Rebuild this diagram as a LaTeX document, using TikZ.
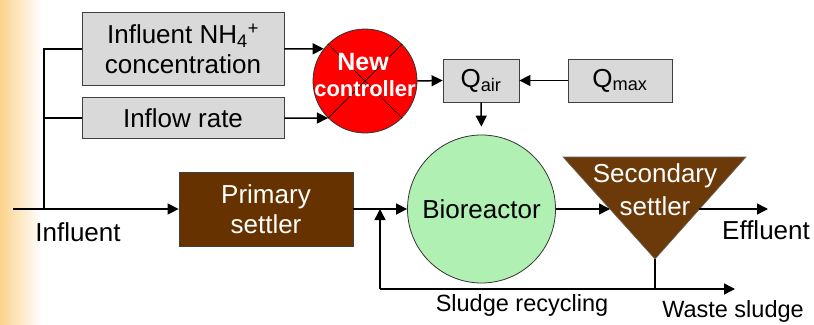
\documentclass[tikz,border=0pt]{standalone}
\usepackage{fontspec}
\setmainfont{Liberation Sans}
\usetikzlibrary{arrows.meta,calc}
\definecolor{boxgray}{HTML}{D9D9D9}
\definecolor{brownA}{HTML}{663300}
\definecolor{brownB}{HTML}{6B3A08}
\definecolor{bioGreen}{HTML}{B0F0B2}
\definecolor{bgorange}{HTML}{FBD38C}
\begin{document}
\begin{tikzpicture}[x=1pt,y=-1pt,
  txt/.style={font=\fontsize{26}{30}\selectfont, align=center, inner sep=0pt},
  small/.style={font=\fontsize{23.5}{27}\selectfont, inner sep=0pt},
  graybox/.style={draw=black!75, line width=0.8pt, fill=boxgray, txt},
  brownbox/.style={draw=black!75, line width=0.8pt, fill=brownA, txt, text=white},
  arr/.style={line width=1.5pt, -{Triangle[length=11pt,width=11pt]}},
  thick line/.style={line width=2.4pt},
]
\useasboundingbox (0,0) rectangle (814,324);
\fill[white] (0,0) rectangle (814,324);
\shade[left color=bgorange, right color=white, shading angle=90] (0,0) rectangle (42,324);
\fill[white] (42,0) rectangle (814,324);

% nodes
\node[graybox, minimum width=202pt, minimum height=73pt] (nh4) at (183,49)
  {Influent NH\textsubscript{4}\textsuperscript{+}\\concentration};
\node[graybox, minimum width=202pt, minimum height=41pt] (inflow) at (183,118) {Inflow rate};
\node[circle, draw=black!80, line width=0.8pt, fill=red, minimum size=104pt, inner sep=0pt] (ctrl) at (365,81) {};
\draw[line width=0.7pt] (ctrl.45) -- (ctrl.225) (ctrl.135) -- (ctrl.315);
\node[text=white, font=\bfseries\fontsize{25}{27}\selectfont, inner sep=0pt] (ctrlA) at (363,62) {New};
\node[text=white, font=\bfseries\fontsize{22}{27}\selectfont, inner sep=0pt] (ctrlB) at (365,89) {controller};
\node[graybox, minimum width=76pt, minimum height=43pt] (qair) at (481,80.5) {Q\textsubscript{air}};
\node[graybox, minimum width=104pt, minimum height=43pt] (qmax) at (620,80.5) {Q\textsubscript{max}};
\node[circle, draw=black!80, line width=0.8pt, fill=bioGreen, minimum size=148pt, inner sep=0pt, txt] (bio) at (481.5,209) {Bioreactor};
\node[brownbox, minimum width=174pt, minimum height=74pt] (prim) at (266,209) {Primary\\settler};

% secondary settler
\coordinate (secTL) at (563,157);
\coordinate (secTR) at (746,157);
\coordinate (secB) at (655,259);
\fill[brownB, draw=black!60, line width=0.6pt] (secTL) -- (secTR) -- (secB) -- cycle;
\node[txt, text=white, font=\fontsize{26}{33}\selectfont] (sec) at (655,190) {Secondary\\settler};
\coordinate (secL) at (610,209);
\coordinate (secR) at (699,209);

% junction coordinates
\coordinate (inStart) at (13,209);
\coordinate (j0) at (44,209);
\coordinate (j1) at (44,49);
\coordinate (j2) at (44,118);
\coordinate (rj) at (380,209);
\coordinate (rb) at (380,289);
\coordinate (ws) at (735,289);
\coordinate (vb) at (655,289);
\coordinate (eff) at (768,209);

% connectors
\draw[arr] (inStart) -- (prim.west);
\draw[thick line] (j0) -- (j1) -- (nh4.west);
\draw[thick line] (j2) -- (inflow.west);
\draw[arr] (nh4.east) -- (ctrl.142);
\draw[arr] (inflow.east) -- (ctrl.225);
\draw[arr] (ctrl.east) -- (qair.west);
\draw[arr] (qmax.west) -- (qair.east);
\draw[arr, shorten >=8pt] (qair.south) -- (bio.north);
\draw[arr] (prim.east) -- (bio.west);
\draw[arr] (rb) -- (rj);
\draw[arr] (rb) -- (ws);
\draw[thick line] (secB) -- (vb);
\draw[arr] (bio.east) -- (secL);
\draw[arr] (secR) -- (eff);

% labels
\node[txt] (linf) at (78,232) {Influent};
\node[txt] (leff) at (766,230) {Effluent};
\node[small] (lrec) at (522,305) {Sludge recycling};
\node[small] (lwaste) at (733,311) {Waste sludge};
\end{tikzpicture}
\end{document}
